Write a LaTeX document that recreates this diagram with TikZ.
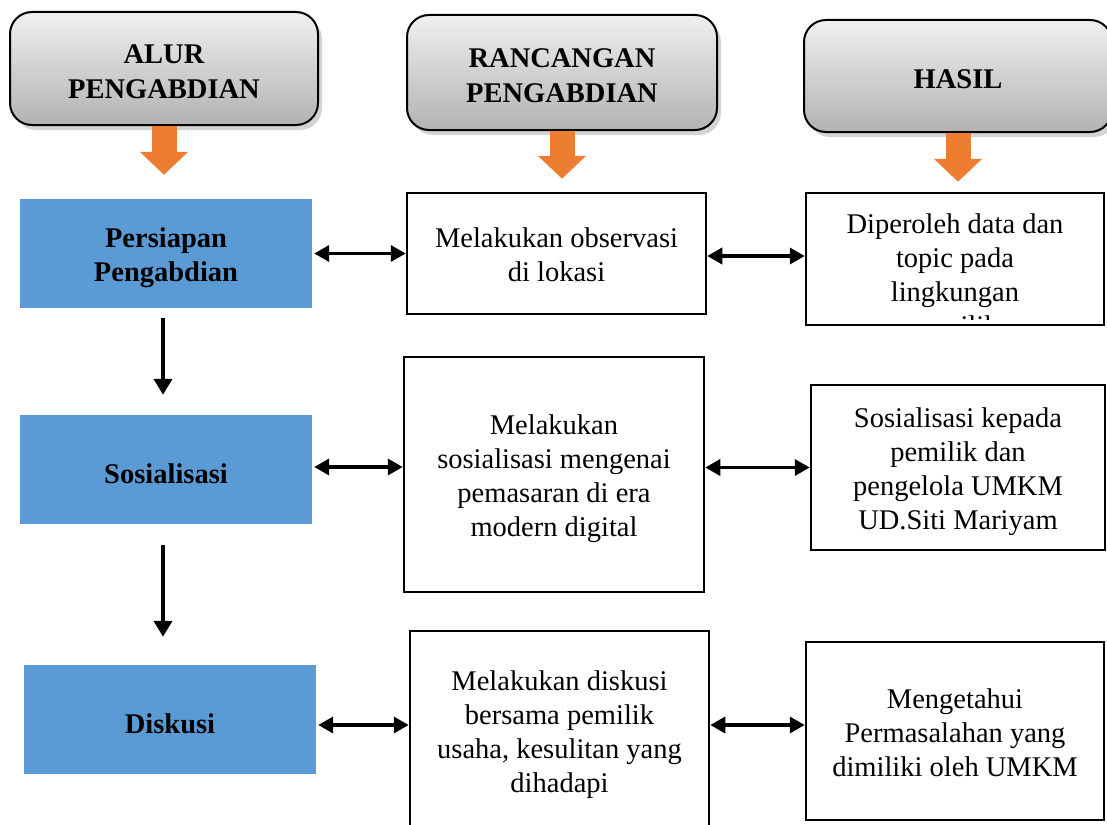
\documentclass[tikz,border=0pt]{standalone}
\usepackage{fontspec}
\setmainfont{Liberation Serif}
\usetikzlibrary{arrows.meta,shadows}
\definecolor{stageblue}{HTML}{5B9BD5}
\definecolor{arroworange}{HTML}{ED7D31}

\begin{document}
\begin{tikzpicture}[x=1pt,y=-1pt,
  every node/.style={font=\fontsize{28.5}{34}\selectfont,align=center,inner sep=0pt},
  header/.style={draw=black,line width=2pt,rounded corners=22pt,top color=black!6,bottom color=black!30,
    drop shadow={shadow xshift=4pt,shadow yshift=-5pt,opacity=.35},
    font=\fontsize{28.5}{35}\selectfont\bfseries},
  stage/.style={fill=stageblue,minimum width=292pt,minimum height=109pt,
    font=\fontsize{28.5}{34}\selectfont\bfseries},
  plan/.style={draw=black,line width=2.5pt,fill=white,minimum width=299pt},
  orangeflow/.style={line width=25pt,draw=arroworange,-{Triangle[length=23pt,width=47pt]}},
  godown/.style={line width=4pt,-{Triangle[length=16pt,width=18pt]}},
  twoway/.style={line width=3.5pt,{Triangle[length=15pt,width=16pt]}-{Triangle[length=15pt,width=16pt]}}
]
\clip (0,0) rectangle (1107,824);

\node[header,minimum width=308pt,minimum height=113pt,text height=60.5pt] (h1) at (164,68.5) {ALUR\\PENGABDIAN};
\node[header,minimum width=310pt,minimum height=115pt,text height=60.5pt] (h2) at (562,72.5) {RANCANGAN\\PENGABDIAN};
\node[header,minimum width=308pt,minimum height=112pt,text height=25.5pt] (h3) at (958,76) {HASIL};

\node[stage,text height=61.5pt] (p1) at (166,253.5) {Persiapan\\Pengabdian};
\node[stage,text height=27.5pt] (s2) at (166,469.5) {Sosialisasi};
\node[stage,text height=27.5pt] (d3) at (170,719.5) {Diskusi};

\node[plan,minimum height=121pt,text height=56.5pt] (o1) at (556.5,253.5) {Melakukan observasi\\di lokasi};
\node[plan,minimum width=300pt,minimum height=235pt,text height=129.5pt] (m2) at (554,474.5) {Melakukan\\sosialisasi mengenai\\pemasaran di era\\modern digital};
\node[plan,minimum height=202pt,text height=127.5pt] (m3) at (559.5,732) {Melakukan diskusi\\bersama pemilik\\usaha, kesulitan yang\\dihadapi};

\node[plan,minimum width=298pt,minimum height=132pt] (r1) at (955,259) {};
\begin{scope}
\clip (r1.north west) rectangle ([yshift=7pt]r1.south east);
\node (r1text) at (955,277.5) {Diperoleh data dan\\topic pada\\lingkungan\\pemilik};
\end{scope}
\node[plan,fill=none,minimum width=298pt,minimum height=132pt] (r1frame) at (955,259) {};
\node[plan,minimum width=294pt,minimum height=165pt,text height=129.5pt] (r2) at (958,467.5) {Sosialisasi kepada\\pemilik dan\\pengelola UMKM\\UD.Siti Mariyam};
\node[plan,minimum width=298pt,minimum height=178pt,text height=90.5pt] (r3) at (955,731) {Mengetahui\\Permasalahan yang\\dimiliki oleh UMKM};

\draw[orangeflow,shorten >=24pt] (h1.south) -- (h1.south |- p1.north);
\draw[orangeflow,shorten >=13pt] (h2.south) -- (h2.south |- o1.north);
\draw[orangeflow,shorten >=10pt] (h3.south) -- (h3.south |- r1.north);

\coordinate (col1) at ([xshift=-3pt]p1.south);
\coordinate (col2) at ([xshift=-3pt]s2.south);
\draw[godown,shorten <=10pt,shorten >=20pt] (col1) -- (col1 |- s2.north);
\draw[godown,shorten <=21pt,shorten >=28pt] (col2) -- (col2 |- d3.north);

\coordinate (row1) at ([yshift=-2.5pt]o1.east);
\coordinate (row2) at ([yshift=2.5pt]s2.east);
\coordinate (row3) at ([yshift=-5.5pt]d3.east);
\draw[twoway,shorten <=2pt] (p1.east) -- (p1.east -| o1.west);
\draw[twoway] (row1) -- (row1 -| r1.west);
\draw[twoway,shorten <=2pt] (row2) -- (row2 -| m2.west);
\draw[twoway] (r2.west -| m2.east) -- (r2.west);
\draw[twoway,shorten <=2pt] (row3) -- (row3 -| m3.west);
\draw[twoway] (row3 -| m3.east) -- (row3 -| r3.west);
\end{tikzpicture}
\end{document}
